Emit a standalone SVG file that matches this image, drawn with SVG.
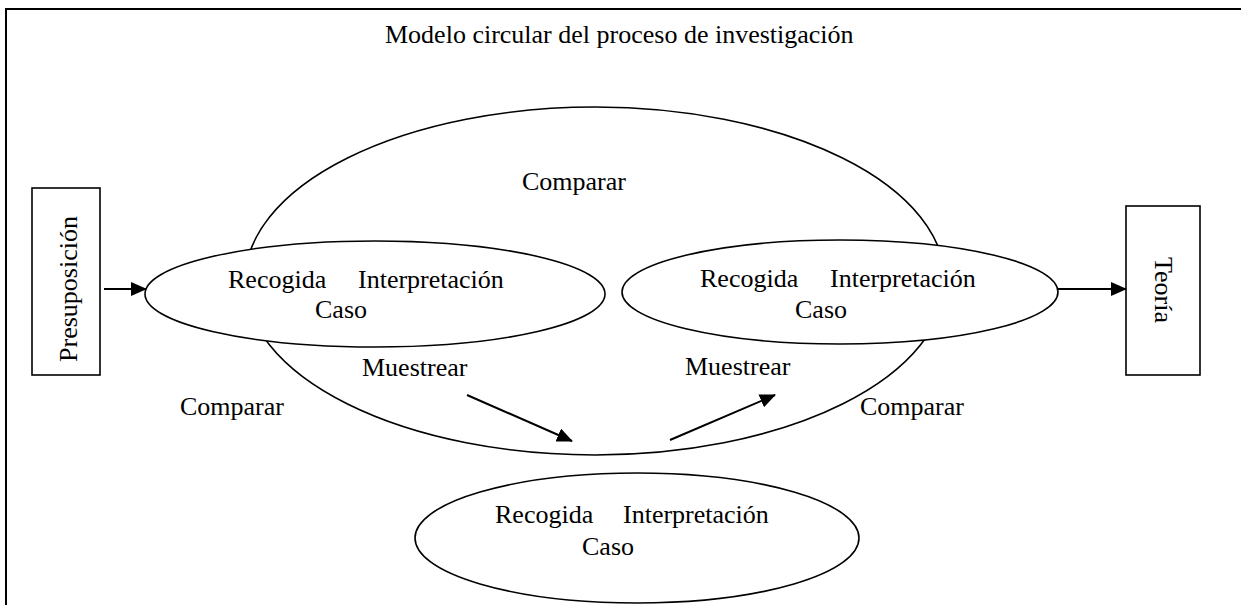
<svg xmlns="http://www.w3.org/2000/svg" width="1241" height="605" viewBox="0 0 1241 605">
<style>
text{font-family:"Liberation Serif","Times New Roman",serif;font-size:26px;fill:#000}
.sh{fill:#fff;stroke:#000;stroke-width:1.6}
.box{fill:#fff;stroke:#000;stroke-width:1.6}
.ar{stroke:#000;stroke-width:2;fill:none;marker-end:url(#ah)}
</style>
<defs>
<marker id="ah" markerUnits="userSpaceOnUse" markerWidth="16" markerHeight="14" refX="15" refY="7" orient="auto">
<path d="M0,0 L16,7 L0,14 Z" fill="#000"/>
</marker>
</defs>
<rect x="6" y="9" width="1260" height="620" fill="#fff" stroke="#000" stroke-width="2"/>
<text x="385" y="43">Modelo circular del proceso de investigación</text>
<g id="ciclo">
<ellipse class="sh" cx="595" cy="281" rx="350" ry="174"/>
<text x="522" y="190">Comparar</text>
</g>
<g id="presuposicion">
<rect class="box" x="32" y="188" width="68" height="187"/>
<text transform="translate(77,289) rotate(-90)" text-anchor="middle">Presuposición</text>
</g>
<g id="caso1">
<ellipse class="sh" cx="375" cy="294" rx="230" ry="53"/>
<text x="228" y="288">Recogida</text>
<text x="358" y="288">Interpretación</text>
<text x="315" y="318">Caso</text>
</g>
<g id="caso2">
<ellipse class="sh" cx="840" cy="292" rx="218" ry="52"/>
<text x="700" y="287">Recogida</text>
<text x="830" y="287">Interpretación</text>
<text x="795" y="318">Caso</text>
</g>
<g id="caso3">
<ellipse class="sh" cx="637" cy="538" rx="222" ry="65"/>
<text x="495" y="523">Recogida</text>
<text x="623" y="523">Interpretación</text>
<text x="582" y="555">Caso</text>
</g>
<g id="teoria">
<rect class="box" x="1126" y="206" width="74" height="169"/>
<text transform="translate(1155,290) rotate(90)" text-anchor="middle">Teoría</text>
</g>
<g id="labels">
<text x="362" y="376">Muestrear</text>
<text x="685" y="375">Muestrear</text>
<text x="180" y="415">Comparar</text>
<text x="860" y="415">Comparar</text>
</g>
<g id="connectors">
<line class="ar" x1="104" y1="289" x2="146" y2="289"/>
<line class="ar" x1="1058" y1="289" x2="1126" y2="289"/>
<line class="ar" x1="467" y1="395" x2="572" y2="441"/>
<line class="ar" x1="670" y1="440" x2="775" y2="395"/>
</g>
</svg>
